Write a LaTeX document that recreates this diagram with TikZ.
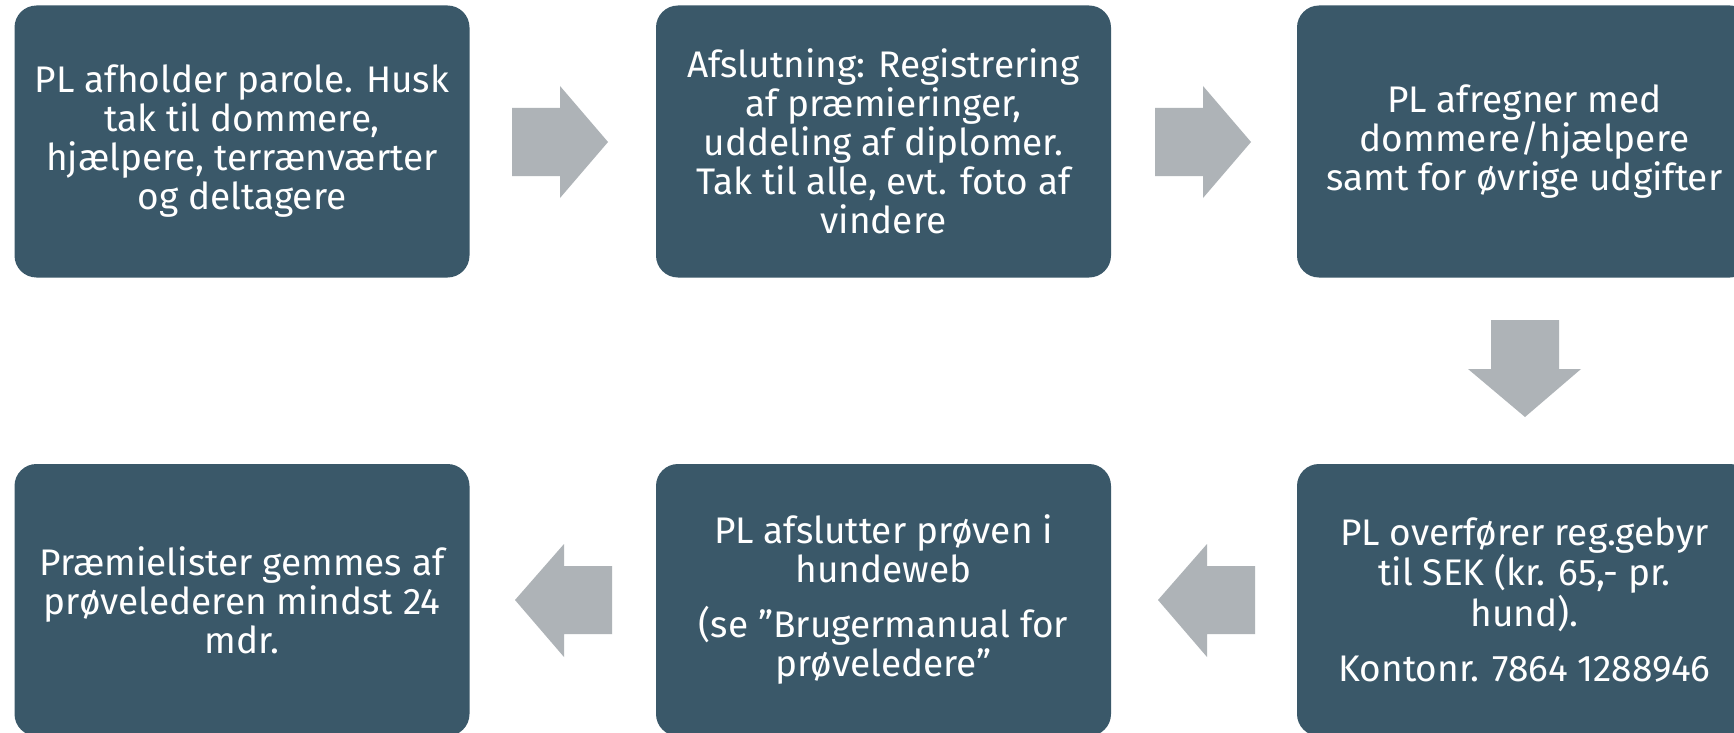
\documentclass[tikz,border=0pt]{standalone}
\usepackage{fontspec}
\setmainfont{Fira Sans}
\definecolor{boxfill}{HTML}{3A5869}
\definecolor{arrowfill}{HTML}{AEB3B7}
\tikzset{
  box/.style={fill=boxfill, rounded corners=22pt, minimum width=455pt, minimum height=272pt,
    text=white, align=center, inner sep=0pt, font=\fontsize{37}{39}\selectfont},
  blockarrow/.style={fill=arrowfill}
}
\begin{document}
\begin{tikzpicture}[x=1pt,y=-1pt]
\useasboundingbox (0,0) rectangle (1734,733);
\fill[white] (0,0) rectangle (1734,733);
% top row
\node[box] (b1) at (242,141.5) {PL afholder parole. Husk\\tak til dommere,\\hjælpere, terrænværter\\og deltagere};
\node[box] (b2) at (883.5,141.5) {Afslutning: Registrering\\af præmieringer,\\uddeling af diplomer.\\Tak til alle, evt. foto af\\vindere};
\node[box] (b3) at (1524.5,141.5) {PL afregner med\\dommere/hjælpere\\samt for øvrige udgifter};
% bottom row
\node[box] (b4) at (1524.5,600) {PL overfører reg.gebyr\\til SEK (kr. 65,- pr.\\hund).\\[16pt]Kontonr. 7864 1288946};
\node[box] (b5) at (883.5,600) {PL afslutter prøven i\\hundeweb\\[16pt](se ”Brugermanual for\\prøveledere”};
\node[box] (b6) at (242,600) {Præmielister gemmes af\\prøvelederen mindst 24\\mdr.};
% block arrows
\fill[blockarrow] (512,108) -- (560,108) -- (560,86) -- (608,142) -- (560,198) -- (560,176) -- (512,176) -- cycle;
\fill[blockarrow] (1155,108) -- (1203,108) -- (1203,86) -- (1251,142) -- (1203,198) -- (1203,176) -- (1155,176) -- cycle;
\fill[blockarrow] (1491,320) -- (1559,320) -- (1559,369) -- (1581,369) -- (1525,417) -- (1468,369) -- (1491,369) -- cycle;
\fill[blockarrow] (1255,566) -- (1207,566) -- (1207,544) -- (1158,600) -- (1207,657) -- (1207,634) -- (1255,634) -- cycle;
\fill[blockarrow] (612,566) -- (564,566) -- (564,544) -- (515,600) -- (564,657) -- (564,634) -- (612,634) -- cycle;
\end{tikzpicture}
\end{document}
